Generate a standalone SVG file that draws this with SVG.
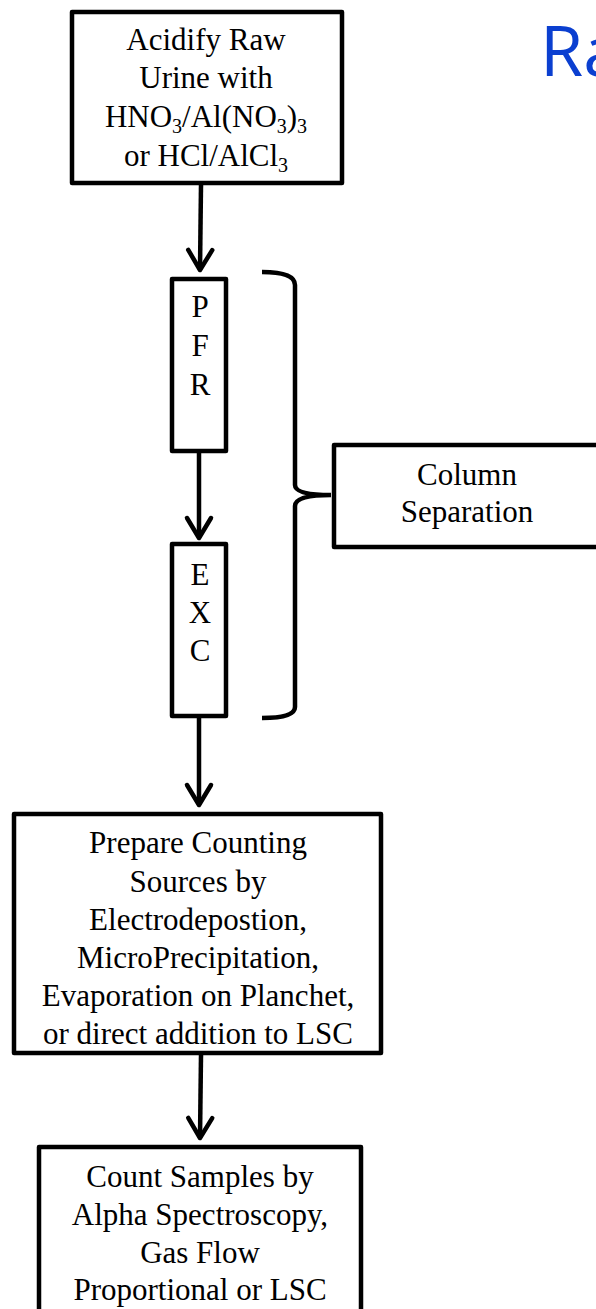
<svg xmlns="http://www.w3.org/2000/svg" width="596" height="1309" viewBox="0 0 596 1309">
<style>
.box{fill:#fff;stroke:#000;stroke-width:4.5;stroke-linejoin:round}
.t{font-family:"Liberation Serif","Times New Roman",serif;font-size:31px;fill:#000;text-anchor:middle}
.sub{font-size:20px}
.conn{stroke:#000;stroke-width:4.5;fill:none}
.title{font-family:"Open Sans","Noto Sans",sans-serif;font-size:70px;fill:#0b3fd0}
</style>
<defs>
<marker id="arr" markerUnits="userSpaceOnUse" markerWidth="30" markerHeight="30" refX="0" refY="0" orient="auto" overflow="visible">
<path d="M-20,-12 L0,0 L-20,12" fill="none" stroke="#000" stroke-width="4.5" stroke-linejoin="round" stroke-linecap="round"/>
</marker>
</defs>
<rect width="596" height="1309" fill="#fff"/>
<text class="title" x="540" y="76">Ra</text>
<g id="connectors">
<line class="conn" x1="201" y1="185" x2="200" y2="270" marker-end="url(#arr)"/>
<line class="conn" x1="199" y1="453" x2="199" y2="538" marker-end="url(#arr)"/>
<line class="conn" x1="199" y1="718" x2="199" y2="805" marker-end="url(#arr)"/>
<line class="conn" x1="201" y1="1055" x2="200" y2="1138" marker-end="url(#arr)"/>
<path class="conn" d="M262,272 Q295,272 295,285 L295,485 Q295,495 331,495 Q295,495 295,506 L295,707 Q295,718 262,718"/>
</g>
<g id="acidify">
<rect class="box" x="72" y="12" width="270" height="171"/>
<text class="t" x="206" y="50">Acidify Raw</text>
<text class="t" x="206" y="88">Urine with</text>
<text class="t" x="206" y="127">HNO<tspan class="sub" dy="6">3</tspan><tspan dy="-6">/Al(NO</tspan><tspan class="sub" dy="6">3</tspan><tspan dy="-6">)</tspan><tspan class="sub" dy="6">3</tspan></text>
<text class="t" x="206" y="166">or HCl/AlCl<tspan class="sub" dy="6">3</tspan></text>
</g>
<g id="pfr">
<rect class="box" x="172" y="279" width="54" height="172"/>
<text class="t" x="200" y="317">P</text>
<text class="t" x="200" y="356">F</text>
<text class="t" x="200" y="395">R</text>
</g>
<g id="exc">
<rect class="box" x="172" y="544" width="54" height="172"/>
<text class="t" x="200" y="585">E</text>
<text class="t" x="200" y="623">X</text>
<text class="t" x="200" y="661">C</text>
</g>
<g id="column">
<rect class="box" x="334" y="445" width="280" height="102"/>
<text class="t" x="467" y="485">Column</text>
<text class="t" x="467" y="522">Separation</text>
</g>
<g id="prepare">
<rect class="box" x="14" y="814" width="367" height="239"/>
<text class="t" x="198" y="853">Prepare Counting</text>
<text class="t" x="198" y="892">Sources by</text>
<text class="t" x="198" y="930">Electrodepostion,</text>
<text class="t" x="198" y="968">MicroPrecipitation,</text>
<text class="t" x="198" y="1006">Evaporation on Planchet,</text>
<text class="t" x="198" y="1044">or direct addition to LSC</text>
</g>
<g id="count">
<rect class="box" x="39" y="1147" width="322" height="180"/>
<text class="t" x="200" y="1187">Count Samples by</text>
<text class="t" x="200" y="1225">Alpha Spectroscopy,</text>
<text class="t" x="200" y="1263">Gas Flow</text>
<text class="t" x="200" y="1300">Proportional or LSC</text>
</g>
</svg>
